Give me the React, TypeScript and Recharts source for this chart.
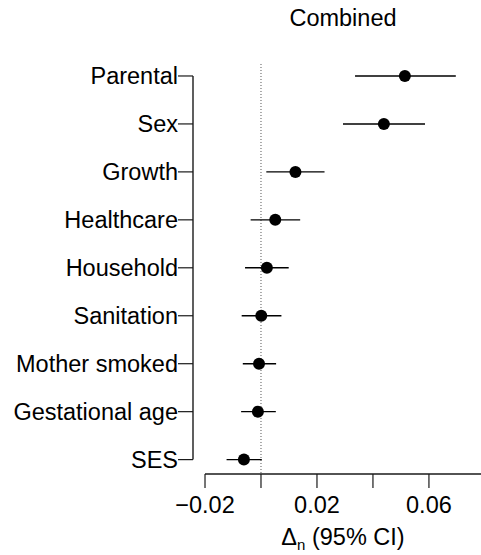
import {
  ErrorBar,
  ReferenceLine,
  Scatter,
  ScatterChart,
  XAxis,
  YAxis,
} from 'recharts';

const categories = [
  'Parental',
  'Sex',
  'Growth',
  'Healthcare',
  'Household',
  'Sanitation',
  'Mother smoked',
  'Gestational age',
  'SES',
];
const estimates = [0.0514, 0.0439, 0.0123, 0.0051, 0.0021, 0.0001, -0.0007, -0.0011, -0.0061];
const lower = [0.0336, 0.0293, 0.0019, -0.0037, -0.0057, -0.0069, -0.0065, -0.0071, -0.0123];
const upper = [0.0696, 0.0586, 0.0227, 0.014, 0.0099, 0.0073, 0.0054, 0.0053, 0.0003];
const xTicks = [-0.02, 0, 0.02, 0.04, 0.06];
const xTickLabels = ['\u22120.02', '', '0.02', '', '0.06'];

const X_MIN = -0.02429;
const X_MAX = 0.0786;
const Y_MIN = -0.5;
const Y_MAX = 8.3;

const FONT = '"Liberation Sans", Arial, Helvetica, sans-serif';
const FONT_SIZE = 23.5;
const INK = '#1a1a1a';

const rows = categories.map((name, i) => ({
  name,
  pos: i,
  est: estimates[i],
  err: [estimates[i] - lower[i], upper[i] - estimates[i]],
}));

function Dot(props: any) {
  const { cx, cy } = props;
  return <circle cx={cx} cy={cy} r={6} fill="#000" />;
}

export default function App() {
  return (
    <div style={{ position: 'relative', width: 481, height: 555, fontFamily: FONT }}>
      <style>{'body{margin:0}'}</style>
      <div
        style={{
          position: 'absolute',
          left: 205,
          width: 276,
          top: 4,
          textAlign: 'center',
          fontSize: FONT_SIZE,
          lineHeight: '28px',
          color: '#000',
        }}
      >
        Combined
      </div>
      <ScatterChart
        width={481}
        height={555}
        margin={{ top: 52, right: 0, left: 0, bottom: 20 }}
      >
        <XAxis
          type="number"
          dataKey="est"
          domain={[X_MIN, X_MAX]}
          allowDataOverflow
          ticks={xTicks}
          tickFormatter={(v: number) => xTickLabels[xTicks.indexOf(v)] ?? ''}
          axisLine={false}
          tickLine={{ stroke: INK, strokeWidth: 1.2 }}
          tickSize={14}
          tickMargin={8}
          height={61}
          tick={{ fill: '#000', fontSize: FONT_SIZE, fontFamily: FONT }}
          interval={0}
        />
        <YAxis
          type="number"
          dataKey="pos"
          domain={[Y_MIN, Y_MAX]}
          reversed
          allowDataOverflow
          ticks={categories.map((_, i) => i)}
          tickFormatter={(v: number) => categories[v] ?? ''}
          axisLine={false}
          tickLine={{ stroke: INK, strokeWidth: 1.2 }}
          tickSize={15}
          tickMargin={0}
          width={193}
          tick={{ fill: '#000', fontSize: FONT_SIZE, fontFamily: FONT }}
          interval={0}
        />
        <ReferenceLine
          segment={[
            { x: 0, y: -0.25 },
            { x: 0, y: Y_MAX },
          ]}
          stroke="#555"
          strokeDasharray="1 2"
          ifOverflow="visible"
        />
        <ReferenceLine
          segment={[
            { x: X_MIN, y: 0 },
            { x: X_MIN, y: 8 },
          ]}
          stroke={INK}
          strokeWidth={1.4}
          ifOverflow="visible"
        />
        <ReferenceLine
          segment={[
            { x: -0.02, y: Y_MAX },
            { x: X_MAX, y: Y_MAX },
          ]}
          stroke={INK}
          strokeWidth={1.4}
          ifOverflow="visible"
        />
        <Scatter data={rows} dataKey="est" shape={<Dot />} isAnimationActive={false}>
          <ErrorBar
            dataKey="err"
            direction="x"
            width={0}
            stroke="#000"
            strokeWidth={1.4}
            isAnimationActive={false}
          />
        </Scatter>
      </ScatterChart>
      <div
        style={{
          position: 'absolute',
          left: 205,
          width: 276,
          top: 523,
          textAlign: 'center',
          fontSize: FONT_SIZE,
          lineHeight: '28px',
          color: '#000',
        }}
      >
        {'\u0394'}
        <sub style={{ fontSize: 15, verticalAlign: '-5px' }}>n</sub> (95% CI)
      </div>
    </div>
  );
}
